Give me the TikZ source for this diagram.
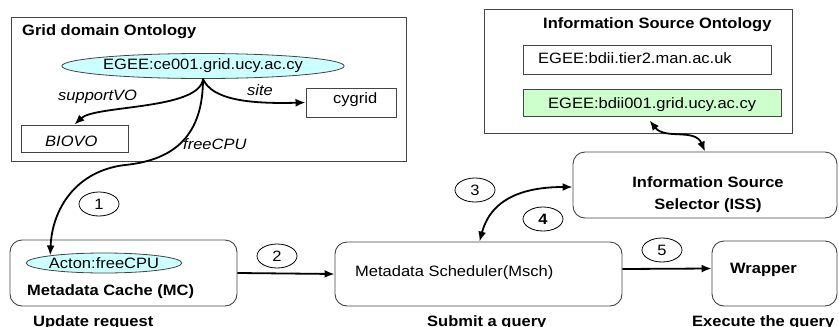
\documentclass[tikz,border=0pt]{standalone}
\usepackage{fontspec}
\setmainfont{Liberation Sans}[FakeStretch=1.1]
\usetikzlibrary{arrows.meta,shapes.geometric}
\definecolor{cyanfill}{HTML}{CCFFFF}
\definecolor{greenfill}{HTML}{CCFFCC}
\definecolor{framegray}{HTML}{444444}
\begin{document}
\begin{tikzpicture}[x=1pt,y=-1pt,
  every node/.style={font=\fontsize{15}{17}\selectfont, inner sep=0pt},
  frame/.style={draw=framegray, line width=0.9pt, rectangle},
  roundbox/.style={frame, rounded corners=12pt},
  numoval/.style={ellipse, draw=black, line width=0.8pt, minimum width=40pt, minimum height=24pt},
  txt/.style={anchor=base west},
  btxt/.style={anchor=base west, font=\fontsize{15}{17}\selectfont\bfseries},
  itxt/.style={anchor=base west, font=\fontsize{15}{17}\selectfont\itshape},
  conn/.style={line width=1.8pt, -{Latex[length=10pt,width=8pt]}},
  dconn/.style={line width=1.8pt, {Latex[length=10pt,width=8pt]}-{Latex[length=10pt,width=8pt]}}]

\useasboundingbox (0,0) rectangle (839,327);

% Grid domain ontology
\node[frame, minimum width=395pt, minimum height=144pt] (gdo) at (208.5,89) {};
\node[btxt] (gdotitle) at (22,35) {Grid domain Ontology};
\node[ellipse, draw=framegray, line width=0.8pt, fill=cyanfill,
      minimum width=268pt, minimum height=25pt] (ce) at (203,66) {EGEE:ce001.grid.ucy.ac.cy};
\node[frame, minimum width=90pt, minimum height=29pt] (cygrid) at (351,102.5) {};
\node[txt] (cygridtxt) at (333,103) {cygrid};
\node[frame, minimum width=107pt, minimum height=27pt] (biovo) at (74.5,138.5) {};
\node[itxt] (biovotxt) at (45,146) {BIOVO};
\node[itxt] (lsupport) at (58,100) {supportVO};
\node[itxt] (lsite) at (247,95) {site};
\node[itxt] (lfree) at (183,149) {freeCPU};

% Information source ontology
\node[frame, minimum width=308pt, minimum height=124pt] (iso) at (638,71) {};
\node[btxt] (isotitle) at (543,28) {Information Source Ontology};
\node[frame, minimum width=248pt, minimum height=29pt] (tier2) at (647,59.5) {};
\node[txt] (tier2txt) at (538,63) {EGEE:bdii.tier2.man.ac.uk};
\node[frame, fill=greenfill, minimum width=258pt, minimum height=27pt] (green) at (652,102.5) {};
\node[txt] (greentxt) at (548,108) {EGEE:bdii001.grid.ucy.ac.cy};

% Processing components
\node[roundbox, minimum width=264pt, minimum height=66pt] (iss) at (705,185) {};
\node[anchor=base, font=\fontsize{15}{17}\selectfont\bfseries] (iss1) at (708,187) {Information Source};
\node[anchor=base, font=\fontsize{15}{17}\selectfont\bfseries] (iss2) at (708,209) {Selector (ISS)};

\node[roundbox, minimum width=227pt, minimum height=66pt] (mc) at (123.5,273) {};
\node[ellipse, draw=framegray, line width=0.8pt, fill=cyanfill,
      minimum width=148pt, minimum height=20pt] (acton) at (104,263) {Acton:freeCPU};
\node[btxt] (mctxt) at (27,295) {Metadata Cache (MC)};

\node[roundbox, minimum width=287pt, minimum height=64pt] (msch) at (478.5,274) {};
\node[txt] (mschtxt) at (355,276) {Metadata Scheduler(Msch)};

\node[roundbox, minimum width=125pt, minimum height=65pt] (wrapper) at (774.5,273.5) {};
\node[btxt] (wraptxt) at (730,273) {Wrapper};

% Captions
\node[btxt] (cap1) at (33,326) {Update request};
\node[btxt] (cap2) at (427,326) {Submit a query};
\node[btxt] (cap3) at (692,326) {Execute the query};

% Step numbers
\node[numoval] (n1) at (99,204) {1};
\node[numoval] (n2) at (277,256) {2};
\node[numoval] (n3) at (475,190) {3};
\node[numoval] (n4) at (543,219) {\bfseries 4};
\node[numoval] (n5) at (662,250) {5};

% Ontology relations
\draw[conn] (ce.south) .. controls (200,110) and (95,105) .. (biovo.north);
\draw[conn] (ce.south) .. controls (212,100) and (250,104) .. (cygrid.west);
\draw[conn] (ce.south) .. controls (203,135) and (175,160) .. (125,165)
                       .. controls (75,171) and (52,210) .. (acton.172);

% Flow between components
\draw[conn] (mc.east) -- (msch.west);
\draw[conn] ([yshift=5pt]msch.east) -- ([yshift=5pt]wrapper.west);
\draw[dconn] ([xshift=145pt]msch.north west) .. controls (492,195) and (530,187) .. ([yshift=-2pt]iss.west);
\draw[dconn] ([xshift=127pt,yshift=-4pt]green.south west) .. controls (665,140) and (695,128) .. (iss.north);

\end{tikzpicture}
\end{document}
